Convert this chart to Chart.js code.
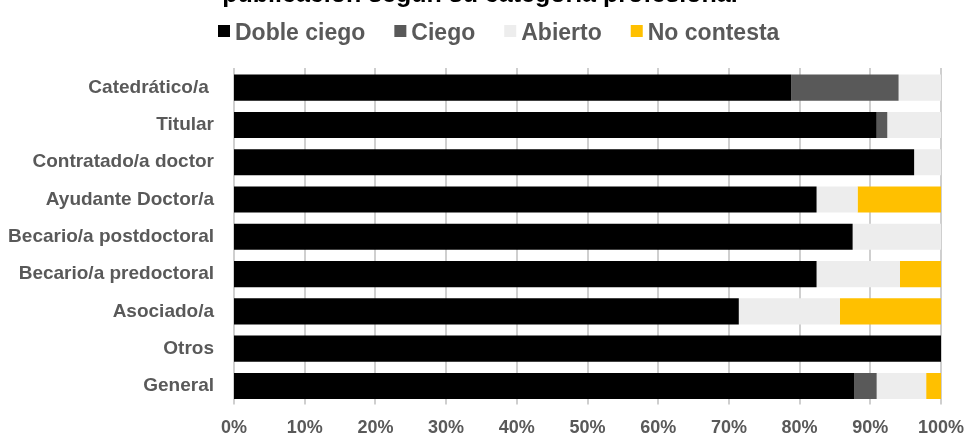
<!DOCTYPE html>
<html>
<head>
<meta charset="utf-8">
<script src="https://cdn.jsdelivr.net/npm/chart.js@4/dist/chart.umd.min.js"></script>
<style>
  html, body { margin: 0; padding: 0; background: #fff; }
  #wrap { width: 966px; height: 436px; }
</style>
</head>
<body>
<div id="wrap"><canvas id="c" width="966" height="436"></canvas></div>
<script>
const titleText = "publicación según su categoría profesional";
const categories = ["Catedrático/a ", "Titular", "Contratado/a doctor", "Ayudante Doctor/a", "Becario/a postdoctoral", "Becario/a predoctoral", "Asociado/a", "Otros", "General"];
const dobleCiego = [78.8, 90.9, 96.2, 82.4, 87.5, 82.4, 71.4, 100, 87.7];
const ciego      = [15.2, 1.5, 0, 0, 0, 0, 0, 0, 3.2];
const abierto    = [6.0, 7.6, 3.8, 5.8, 12.5, 11.8, 14.3, 0, 7.0];
const noContesta = [0, 0, 0, 11.8, 0, 5.8, 14.3, 0, 2.1];
const seriesNames = ["Doble ciego", "Ciego", "Abierto", "No contesta"];
const seriesColors = ["#000000", "#595959", "#ededed", "#ffc000"];

const labelColor = "#595959";
const fontFam = "'Liberation Sans', Arial, sans-serif";

// vertical gridlines at every x tick, drawn after everything but only in the gaps between bars
const gridPlugin = {
  id: 'vgrid',
  afterDatasetsDraw(chart) {
    const ctx = chart.ctx;
    const xs = chart.scales.x;
    const area = chart.chartArea;
    ctx.save();
    ctx.globalCompositeOperation = 'destination-over';
    ctx.strokeStyle = '#cfcfcf';
    ctx.lineWidth = 2;
    xs.ticks.forEach(t => {
      const px = Math.round(xs.getPixelForValue(t.value));
      ctx.beginPath();
      ctx.moveTo(px, area.top - 1);
      ctx.lineTo(px, area.bottom);
      ctx.stroke();
    });
    ctx.restore();
  }
};

// Title (cut off at top in the original) and legend drawn as canvas text
const headerPlugin = {
  id: 'header',
  afterDraw(chart) {
    const ctx = chart.ctx;
    ctx.save();
    ctx.font = "bold 25px " + fontFam;
    ctx.fillStyle = "#000";
    ctx.textAlign = "center";
    ctx.textBaseline = "alphabetic";
    ctx.fillText(titleText, 480, 2);

    ctx.font = "bold 23px " + fontFam;
    ctx.textAlign = "left";
    let x = 218;
    chart.data.datasets.forEach(ds => {
      ctx.fillStyle = ds.backgroundColor;
      ctx.fillRect(x, 25, 12, 12);
      ctx.fillStyle = labelColor;
      ctx.fillText(ds.label, x + 17, 40);
      x += 17 + ctx.measureText(ds.label).width + 29;
    });
    ctx.restore();
  }
};

const data = {
  labels: categories,
  datasets: [dobleCiego, ciego, abierto, noContesta].map((d, i) => ({
    label: seriesNames[i],
    data: d,
    backgroundColor: seriesColors[i],
    borderWidth: 0,
    barPercentage: 0.7,
    categoryPercentage: 1.0
  }))
};

new Chart(document.getElementById('c'), {
  type: 'bar',
  data,
  plugins: [gridPlugin, headerPlugin],
  options: {
    indexAxis: 'y',
    responsive: false,
    animation: false,
    devicePixelRatio: 1,
    layout: { padding: { top: 69, left: 0, right: 25, bottom: 0 } },
    plugins: {
      legend: { display: false },
      tooltip: { enabled: false },
      title: { display: false }
    },
    scales: {
      x: {
        stacked: true,
        min: 0,
        max: 100,
        afterFit(scale) { scale.height = 30; scale.paddingLeft = 0; scale.paddingRight = 0; },
        ticks: {
          stepSize: 10,
          callback: v => v + '%',
          color: labelColor,
          font: { family: fontFam, size: 18, weight: 'bold' },
          padding: 13,
          maxRotation: 0
        },
        grid: { display: false, drawTicks: false, tickLength: 0 },
        border: { display: false }
      },
      y: {
        stacked: true,
        afterFit(scale) { scale.width = 234; },
        ticks: {
          color: labelColor,
          font: { family: fontFam, size: 19, weight: 'bold' },
          padding: 20
        },
        grid: { display: false, drawTicks: false, tickLength: 0 },
        border: { display: false }
      }
    }
  }
});
</script>
</body>
</html>
